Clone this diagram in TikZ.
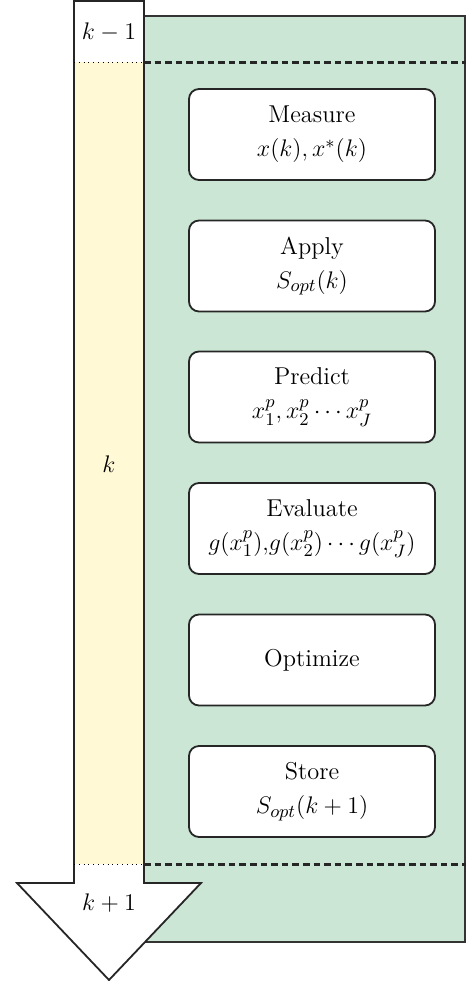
\documentclass[tikz,border=0pt]{standalone}
\usetikzlibrary{calc}
\definecolor{bggreen}{RGB}{204,230,213}
\definecolor{bgyellow}{RGB}{255,249,214}
\begin{document}
\begin{tikzpicture}[x=0.5pt,y=-0.5pt,
  stepbox/.style={draw=black!85,fill=white,line width=0.9pt,rounded corners=5pt,
    minimum width=123pt,minimum height=45.5pt,align=center,
    font=\fontsize{12.2}{17}\selectfont},
  lbl/.style={font=\fontsize{12.2}{14}\selectfont},
  dashln/.style={line width=1.5pt,black!85,dash pattern=on 3.3pt off 2pt},
  dotln/.style={line width=0.4pt,black,dotted}]
\useasboundingbox (0,0) rectangle (466,981);
% green panel
\draw[fill=bggreen,draw=black!80,line width=0.9pt] (144,16) rectangle (465,942);
% arrow
\draw[fill=white,draw=black!85,line width=0.9pt]
  (74,1) -- (144,1) -- (144,883) -- (201,883) -- (109,980) -- (17,883) -- (74,883) -- cycle;
\fill[bgyellow] (74.5,62) rectangle (143.5,864);
\draw[black!85,line width=0.9pt] (74,1) -- (74,883) (144,1) -- (144,883);
\coordinate (dl1) at (74,62); \coordinate (dm1) at (144,62); \coordinate (dr1) at (466,62);
\coordinate (dl2) at (74,864); \coordinate (dm2) at (144,864); \coordinate (dr2) at (466,864);
\draw[dotln] (dl1) -- (dm1);
\draw[dotln] (dl2) -- (dm2);
\draw[dashln] (dm1) -- (dr1);
\draw[dashln] (dm2) -- (dr2);
\node[lbl] (km1) at (109,32) {$k-1$};
\node[lbl] (k) at (109,464) {$k$};
\node[lbl] (kp1) at (109,903) {$k+1$};
% steps
\node[stepbox] (measure) at (312,134.5) {Measure\\$x(k),x^*(k)$};
\node[stepbox] (apply) at (312,266) {Apply\\$S_{opt}(k)$};
\node[stepbox] (predict) at (312,397) {Predict\\$x_1^p,x_2^p\cdots x_J^p$};
\node[stepbox] (evaluate) at (312,528.5) {Evaluate\\$g(x_1^p){,}g(x_2^p)\cdots g(x_J^p)$};
\node[stepbox] (optimize) at (312,660) {Optimize};
\node[stepbox] (store) at (312,791.5) {Store\\$S_{opt}(k+1)$};
\end{tikzpicture}
\end{document}
